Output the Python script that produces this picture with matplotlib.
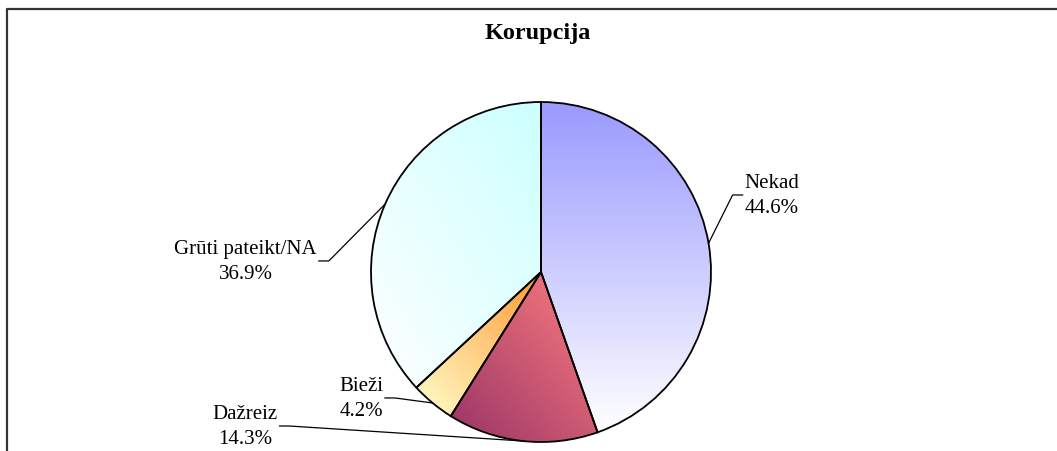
import numpy as np
import matplotlib
matplotlib.use('Agg')
import matplotlib.pyplot as plt
from matplotlib.colors import to_rgb
from matplotlib.lines import Line2D

# data
labels = ['Nekad', 'Dažreiz', 'Bieži', 'Grūti pateikt/NA']
shares = [44.6, 14.3, 4.2, 36.9]

# gradient fill: start colour -> end colour along a direction
grad_start = ['#9999FF', '#FF8080', '#FF9933', '#CCFFFF']
grad_end = ['#FFFFFF', '#993366', '#FFFFCC', '#FFFFFF']
grad_dir = [(0, -1), (-1, -1), (-1, -1), (-1, -1)]

# label centres in pie-radius units
label_pos = [(1.359, 0.453), (-1.741, -0.906), (-1.059, -0.741), (-1.738, 0.065)]

W, H = 1057, 452
cx, cy, R = 541, 273, 170

plt.rcParams['font.family'] = ['Liberation Serif', 'DejaVu Serif']

fig = plt.figure(figsize=(W / 100, H / 100), dpi=100)
ax = fig.add_axes([0, 0, 1, 1])

wedges, _ = ax.pie(shares, startangle=90, counterclock=False, radius=1,
                   wedgeprops=dict(edgecolor='black', linewidth=1.3))

for w, c0, c1, d in zip(wedges, grad_start, grad_end, grad_dir):
    w.set_facecolor('none')
    w.set_zorder(3)
    bb = w.get_path().get_extents()
    x0, y0, x1, y1 = bb.x0, bb.y0, bb.x1, bb.y1
    xs = np.linspace(0, 1, 200)
    gx, gy = np.meshgrid(xs, xs)
    dx, dy = d
    # project onto direction, normalise to 0..1
    t = gx * dx + gy * dy
    t = (t - t.min()) / (t.max() - t.min())
    a = np.array(to_rgb(c0))
    b = np.array(to_rgb(c1))
    img = a[None, None, :] * (1 - t[..., None]) + b[None, None, :] * t[..., None]
    im = ax.imshow(img, extent=(x0, x1, y0, y1), origin='lower',
                   interpolation='bilinear', zorder=2)
    im.set_clip_path(w)

ax.set_xlim(-cx / R, (W - cx) / R)
ax.set_ylim((cy - H) / R, cy / R)
ax.set_aspect('auto')
ax.axis('off')

# labels
texts = []
for lab, v, (lx, ly) in zip(labels, shares, label_pos):
    t = ax.text(lx, ly, f'{lab}\n{v:.1f}%', ha='center', va='center',
                fontsize=15, linespacing=1.4, zorder=5)
    texts.append(t)

fig.canvas.draw()
r = fig.canvas.get_renderer()
angles = 90 - np.cumsum([0] + shares[:-1]) * 3.6 - np.array(shares) * 1.8
inv = ax.transData.inverted()
for t, ang in zip(texts, angles):
    ax_pt = (np.cos(np.radians(ang)), np.sin(np.radians(ang)))
    bb = t.get_window_extent(r)
    tx, ty = t.get_position()
    if tx > ax_pt[0]:
        sx = bb.x0 - 2
        ex = sx - 10
    else:
        sx = bb.x1 + 2
        ex = sx + 10
    sy = (bb.y0 + bb.y1) / 2
    s_d = inv.transform((sx, sy))
    e_d = inv.transform((ex, sy))
    ax.plot([ax_pt[0], e_d[0], s_d[0]], [ax_pt[1], e_d[1], s_d[1]],
            color='black', lw=0.9, zorder=4)

fig.text(538 / W, 1 - 34 / H, 'Korupcija', ha='center', va='center',
         fontsize=17.5, fontweight='bold')

# chart frame (left and top edges)
fig.add_artist(Line2D([7 / W, 7 / W, 1], [0, 1 - 10 / H, 1 - 10 / H],
                      color='#333333', lw=1.6, transform=fig.transFigure))

fig.savefig('out.png', dpi=100)
